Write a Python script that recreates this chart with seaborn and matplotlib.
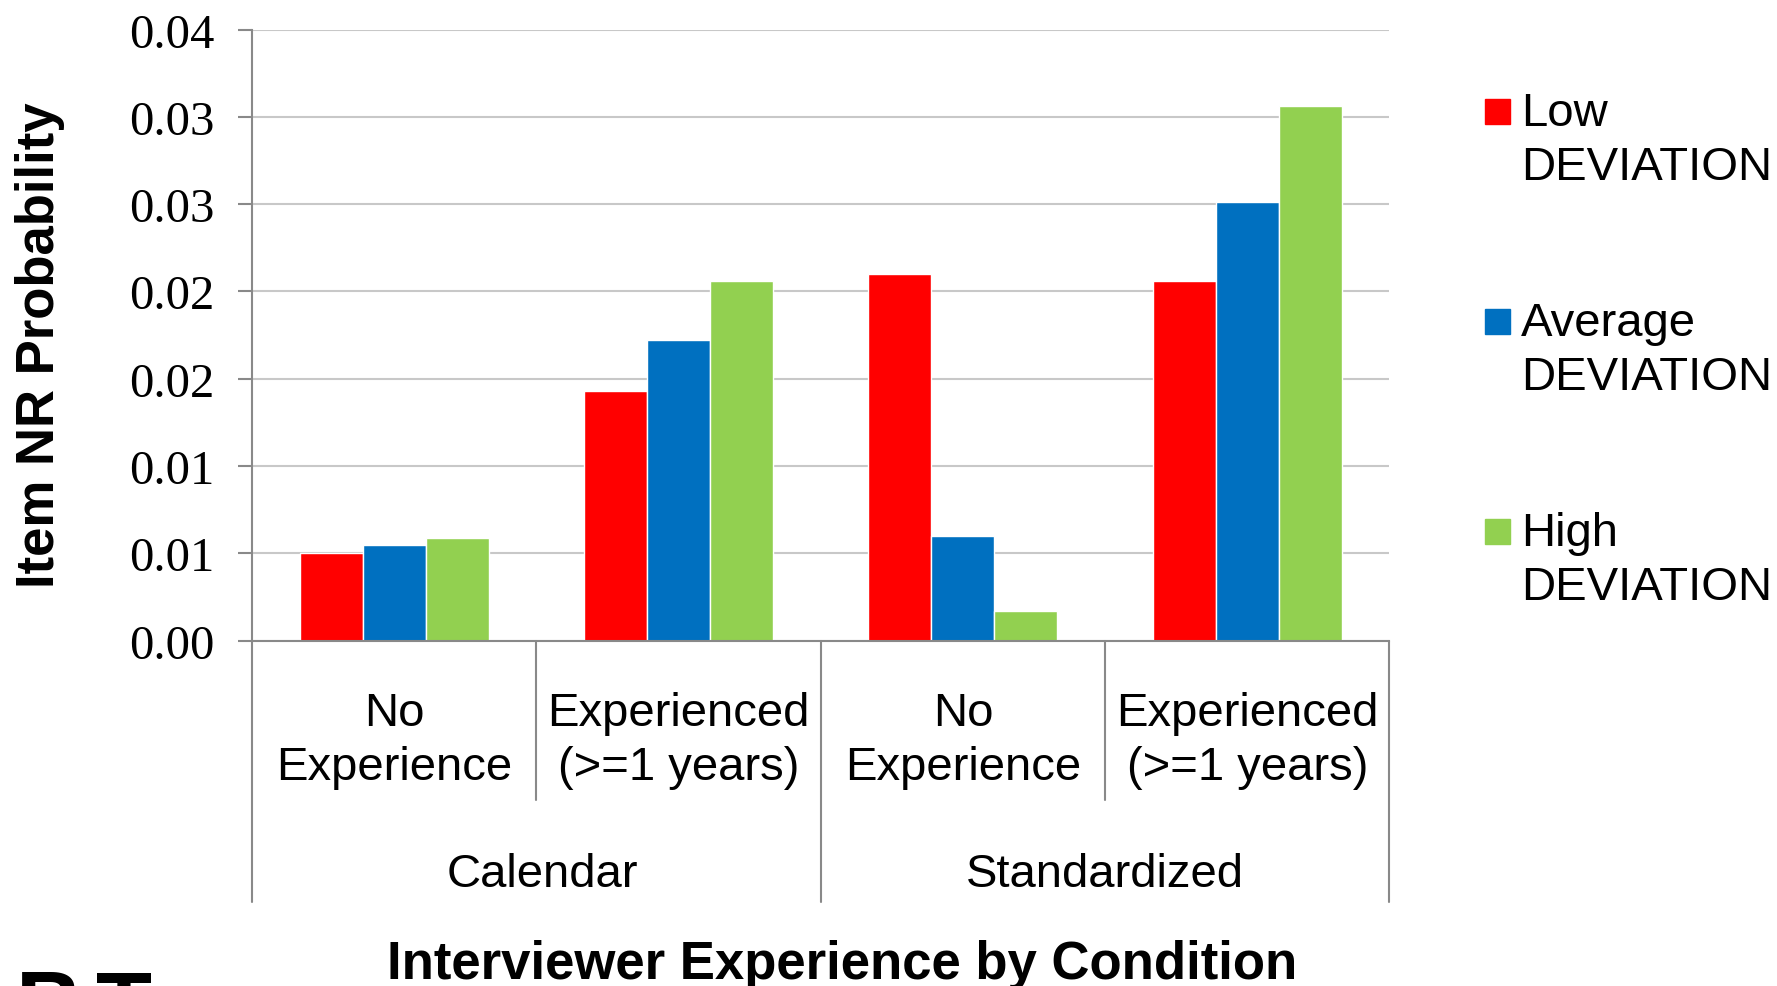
import matplotlib
matplotlib.use("Agg")
import matplotlib.pyplot as plt
import matplotlib.transforms as mtransforms
from matplotlib import patches
import numpy as np
import pandas as pd
import seaborn as sns

# data
conditions = ["Calendar", "Calendar", "Standardized", "Standardized"]
experience = ["No\nExperience", "Experienced\n(>=1 years)", "No\nExperience", "Experienced\n(>=1 years)"]
levels = ["Low\nDEVIATION", "Average\nDEVIATION", "High\nDEVIATION"]
low_dev = [0.0050, 0.0143, 0.0210, 0.0206]
avg_dev = [0.00545, 0.0172, 0.0060, 0.0251]
high_dev = [0.0059, 0.0206, 0.0017, 0.0306]
yticks = [0.0, 0.005, 0.01, 0.015, 0.02, 0.025, 0.03, 0.035]
ytick_labels = ["0.00", "0.01", "0.01", "0.02", "0.02", "0.03", "0.03", "0.04"]
colors = ["#FF0000", "#0070C0", "#92D050"]

keys = [c + "|" + e for c, e in zip(conditions, experience)]
rows = []
for lev, vals in zip(levels, [low_dev, avg_dev, high_dev]):
    for k, v in zip(keys, vals):
        rows.append({"cat": k, "level": lev, "value": v})
df = pd.DataFrame(rows)

sns.set_style("white")
plt.rcParams['font.family'] = ['Liberation Sans', 'DejaVu Sans']
plt.rcParams['text.color'] = 'black'
plt.rcParams['ytick.labelcolor'] = 'black'

fig = plt.figure(figsize=(17.77, 9.87), dpi=100)
ax = fig.add_axes([0.1418, 0.3500, 0.6401, 0.6190])

sns.barplot(data=df, x="cat", y="value", hue="level", order=keys, hue_order=levels,
            palette=colors, width=0.665, saturation=1, legend=False, ax=ax)

grey = "#898989"
ax.set_xlim(-0.5, 3.5)
ax.set_ylim(0, 0.035)
ax.set_yticks(yticks)
ax.set_yticklabels(ytick_labels, family="Liberation Serif", fontsize=35, color="black")
ax.yaxis.grid(True, color="#C8C8C8", linewidth=1.5)
ax.set_axisbelow(True)
ax.tick_params(axis="y", length=10, width=1.5, color=grey, pad=17, left=True)
ax.set_xticks([])
ax.set_xlabel("")
ax.set_ylabel("")
for s in ["top", "right"]:
    ax.spines[s].set_visible(False)
ax.spines["left"].set_color(grey)
ax.spines["bottom"].set_color(grey)
ax.spines["left"].set_linewidth(1.5)
ax.spines["bottom"].set_linewidth(1.5)

# two-level category axis
trans = mtransforms.blended_transform_factory(ax.transData, ax.transAxes)
for i, lab in enumerate(experience):
    ax.text(i, -0.163, lab, transform=trans, ha="center", va="center",
            fontsize=34, linespacing=1.3)
for x in [0.5, 2.5]:
    ax.plot([x, x], [0, -0.261], transform=trans, color=grey, lw=1.5, clip_on=False)
for x in [-0.5, 1.5, 3.5]:
    ax.plot([x, x], [0, -0.428], transform=trans, color=grey, lw=1.5, clip_on=False)
for x, lab in zip([0.52, 2.5], ["Calendar", "Standardized"]):
    ax.text(x, -0.382, lab, transform=trans, ha="center", va="center", fontsize=34)

fig.text(0.0225, 0.65, "Item NR Probability", rotation=90, ha="center", va="center",
         fontsize=38, fontweight="bold")
fig.text(0.474, 0.008, "Interviewer Experience by Condition", ha="center", va="baseline",
         fontsize=38, fontweight="bold")

# legend
for j, (lev, col) in enumerate(zip(levels, colors)):
    yc = 1 - (112 + 210 * j) / 987
    fig.add_artist(patches.Rectangle((1485 / 1777, yc - 12.5 / 987), 25 / 1777, 25 / 987,
                                     transform=fig.transFigure, color=col))
    name, dev = lev.split("\n")
    fig.text(1521 / 1777, yc - 2 / 987, name, ha="left", va="center", fontsize=34)
    fig.text(1521 / 1777, yc - 56 / 987, dev, ha="left", va="center", fontsize=34)

# cropped slide text at the bottom-left corner
fig.text(0.009, -0.05, "B", fontsize=66, fontweight="bold", va="baseline")
fig.text(0.054, -0.05, "T", fontsize=66, fontweight="bold", va="baseline")

fig.savefig("out.png", dpi=100)
